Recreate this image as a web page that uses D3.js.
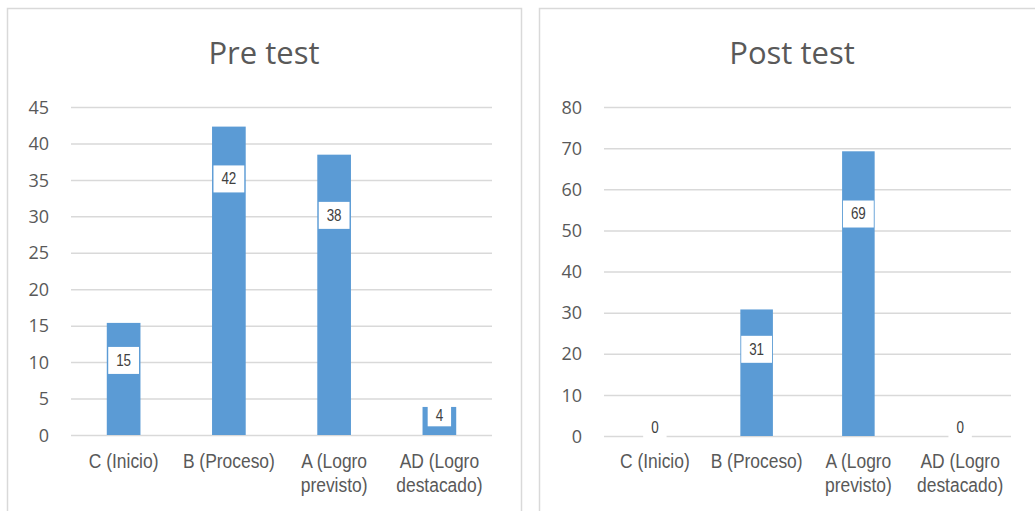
<!DOCTYPE html>
<html>
<head>
<meta charset="utf-8">
<script src="https://cdn.jsdelivr.net/npm/d3@7"></script>
<style>
  html, body { margin: 0; padding: 0; background: #ffffff; }
  svg { display: block; }
</style>
</head>
<body>
<svg id="chart" width="1035" height="511"></svg>
<script>
// ---- Data ----
const categories = ["C (Inicio)", "B (Proceso)", "A (Logro previsto)", "AD (Logro destacado)"];
const categoryLines = [["C (Inicio)"], ["B (Proceso)"], ["A (Logro", "previsto)"], ["AD (Logro", "destacado)"]];
const preTitle = "Pre test";
const postTitle = "Post test";
const preValues = [15.38, 42.31, 38.46, 3.85];
const postValues = [0, 30.77, 69.23, 0];
const preLabels = ["15", "42", "38", "4"];
const postLabels = ["0", "31", "69", "0"];
const preTicks = [0, 5, 10, 15, 20, 25, 30, 35, 40, 45];
const postTicks = [0, 10, 20, 30, 40, 50, 60, 70, 80];
// label anchor (in value units) where the data-label boxes sit
const preLabelAt = [10.3, 35.2, 30.2, 2.7];
const postLabelAt = [0, 21.2, 54.1, 0];

// ---- Layout ----
const svg = d3.select("#chart");
const BAR = "#5b9bd5";
const GRID = "#d9d9d9";
const TXT = "#595959";

function drawPanel(cfg) {
  const g = svg.append("g");
  // panel border
  g.append("rect")
    .attr("x", cfg.px0 + 0.5).attr("y", 8.5)
    .attr("width", cfg.px1 - cfg.px0).attr("height", 560)
    .attr("fill", "#fff").attr("stroke", GRID).attr("stroke-width", 1.5);

  // title
  g.append("text")
    .attr("x", (cfg.px0 + cfg.px1) / 2).attr("y", 64)
    .attr("text-anchor", "middle")
    .attr("font-family", "'Open Sans', sans-serif")
    .attr("font-size", 31).attr("fill", TXT)
    .text(cfg.title);

  const x = d3.scaleBand().domain(categories).range([cfg.x0, cfg.x1]).paddingInner(0.68).paddingOuter(0.34);
  const y = d3.scaleLinear().domain([0, d3.max(cfg.ticks)]).range([cfg.y0, 107]);

  // gridlines
  const yAxis = d3.axisLeft(y).tickValues(cfg.ticks).tickSize(-(cfg.x1 - cfg.x0)).tickPadding(22);
  const ga = g.append("g").attr("transform", `translate(${cfg.x0},0)`).call(yAxis);
  ga.select(".domain").remove();
  ga.selectAll(".tick line").attr("stroke", GRID).attr("stroke-width", 1.5);
  ga.selectAll(".tick text")
    .attr("font-family", "'Open Sans', sans-serif")
    .attr("font-size", 18).attr("fill", TXT).attr("dy", "0.34em");

  // bars
  g.selectAll("rect.bar").data(cfg.values).join("rect")
    .attr("class", "bar")
    .attr("x", (d, i) => x(categories[i]))
    .attr("width", x.bandwidth())
    .attr("y", d => y(d))
    .attr("height", d => y(0) - y(d))
    .attr("fill", BAR);

  // data labels
  const lg = g.selectAll("g.lbl").data(cfg.labels).join("g")
    .attr("class", "lbl")
    .attr("transform", (d, i) => `translate(${x(categories[i]) + x.bandwidth() / 2},${y(cfg.labelAt[i]) - (cfg.values[i] === 0 ? 9 : 0)})`);
  lg.append("rect")
    .attr("x", d => -(d.length * 7.4 + 16) / 2)
    .attr("width", d => d.length * 7.4 + 16)
    .attr("y", d => d.length === 1 && d !== "0" ? -11 : -13)
    .attr("height", d => d.length === 1 && d !== "0" ? 22 : 27)
    .attr("fill", "#fff");
  lg.append("text")
    .attr("text-anchor", "middle").attr("dy", "0.36em")
    .attr("transform", "scale(0.84,1)")
    .attr("font-family", "'Liberation Sans', Arial, sans-serif")
    .attr("font-size", 16).attr("fill", "#404040")
    .text(d => d);

  // category labels
  const cg = g.selectAll("g.cat").data(categoryLines).join("g")
    .attr("class", "cat")
    .attr("transform", (d, i) => `translate(${x(categories[i]) + x.bandwidth() / 2},468)`);
  cg.each(function(lines) {
    const t = d3.select(this).append("text")
      .attr("text-anchor", "middle")
      .attr("transform", "scale(0.83,1)")
      .attr("font-family", "'Liberation Sans', Arial, sans-serif")
      .attr("font-size", 21).attr("fill", TXT);
    lines.forEach((l, k) => t.append("tspan").attr("x", 0).attr("y", k * 24).text(l));
  });
}

drawPanel({ px0: 7, px1: 521, x0: 71, x1: 492, y0: 435, title: preTitle, values: preValues, labels: preLabels, ticks: preTicks, labelAt: preLabelAt });
drawPanel({ px0: 539, px1: 1045, x0: 604, x1: 1011, y0: 436, title: postTitle, values: postValues, labels: postLabels, ticks: postTicks, labelAt: postLabelAt });
</script>
</body>
</html>
